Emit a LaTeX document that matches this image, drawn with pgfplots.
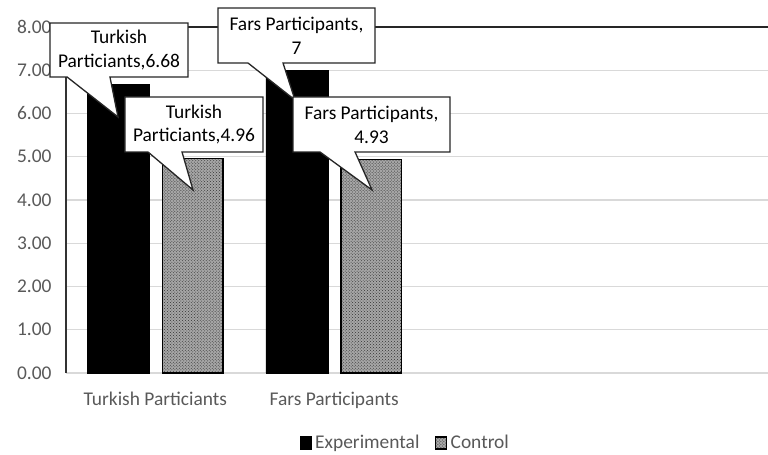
\documentclass[border=0pt]{standalone}
\usepackage{fontspec}
\setmainfont{Carlito}
\usepackage{pgfplots}
\pgfplotsset{compat=1.18}
\usetikzlibrary{patterns}

\definecolor{txtgray}{HTML}{595959}
\definecolor{gridgray}{HTML}{D9D9D9}

% callout box in axis units: x0, x1, ybottom, ytop, pointer base b1, b2, apex x, apex y, text
\newcommand{\callout}[9]{%
  \draw[black!85, line width=1.3bp, fill=white, line join=miter]
    (axis cs:#1,#4) -- (axis cs:#2,#4) -- (axis cs:#2,#3) -- (axis cs:#6,#3)
    -- (axis cs:#7,#8) -- (axis cs:#5,#3) -- (axis cs:#1,#3) -- cycle;
  \path (axis cs:#1,#3) -- node[align=center, text=black, inner sep=0pt] {#9} (axis cs:#2,#4);
}

\begin{document}
\begin{tikzpicture}[font=\fontsize{19.5}{24}\selectfont]
\begin{axis}[
    scale only axis,
    width=702bp, height=346bp,
    xmin=-0.5, xmax=3.427,
    ymin=0, ymax=8,
    xtick={0,1},
    xticklabels={Turkish Particiants, Fars Participants},
    ytick={0,1,...,8},
    ymajorgrids,
    grid style={gridgray, line width=1.3bp},
    axis line style={draw=none},
    major tick length=0pt,
    /pgf/number format/assume math mode=true,
    tick label style={text=txtgray, font=\fontsize{19.5}{24}\selectfont},
    yticklabel style={/pgf/number format/.cd, fixed, fixed zerofill, precision=2,
        assume math mode=true, /tikz/.cd, xshift=-11bp},
    xticklabel style={yshift=-16bp},
    legend style={at={(0.4843,-0.2023)}, anchor=center, draw=none,
        legend columns=2, text=txtgray, font=\fontsize{19.5}{24}\selectfont,
        nodes={inner xsep=3.5bp},
        /tikz/every even column/.append style={column sep=12bp}},
    legend image code/.code={\draw[#1, line width=1.2bp] (0bp,-6bp) rectangle (11bp,6bp);},
    clip=false,
]

\addplot[ybar, bar width=0.347, bar shift=-0.2084, fill=black, draw=black]
coordinates {(0,6.68) (1,7)};
\addlegendentry{Experimental}

\addplot[ybar, bar width=0.34, bar shift=0.2084, fill=black!35, draw=black,
    line width=1.2bp, postaction={pattern=crosshatch dots, pattern color=black!80}]
coordinates {(0,4.96) (1,4.93)};
\addlegendentry{Control}

% axis lines
\draw[black!80, line width=1.3bp] (axis cs:-0.5,0) -- (axis cs:-0.5,8);
\draw[black!85, line width=1.3bp] (axis cs:-0.5,8) -- (axis cs:3.427,8);

% data callouts
\callout{-0.5895}{0.1825}{6.844}{8.092}{-0.494}{-0.254}{-0.209}{5.919}{Turkish\\Particiants,6.68}
\callout{-0.170}{0.602}{5.110}{6.382}{-0.0413}{0.149}{0.2105}{4.231}{Turkish\\Particiants,4.96}
\callout{0.350}{1.2287}{7.168}{8.439}{0.518}{0.714}{0.781}{6.312}{Fars Participants,\\7}
\callout{0.770}{1.648}{5.110}{6.382}{0.921}{1.117}{1.212}{4.231}{Fars Participants,\\4.93}

\coordinate (bl) at (rel axis cs:0,0);
\coordinate (tr) at (rel axis cs:1,1);
\end{axis}
\pgfresetboundingbox
\path[use as bounding box] ([shift={(-66bp,-82bp)}]bl) rectangle ([shift={(0bp,27bp)}]tr);
\end{tikzpicture}
\end{document}
